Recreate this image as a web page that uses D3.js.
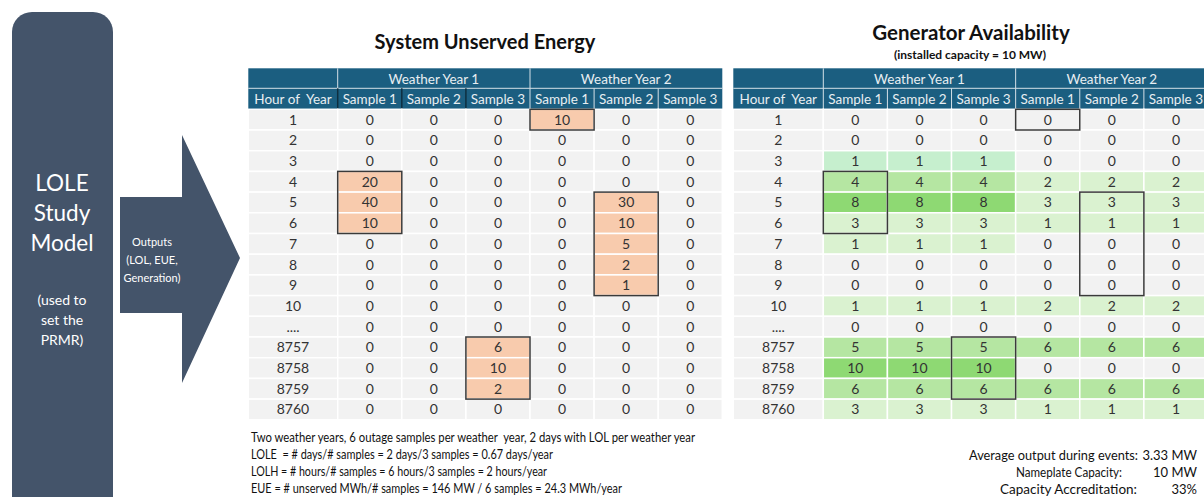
<!DOCTYPE html>
<html>
<head>
<meta charset="utf-8">
<script src="https://cdn.jsdelivr.net/npm/d3@7/dist/d3.min.js"></script>
<style>
  html, body { margin: 0; padding: 0; background: #ffffff; }
  svg { display: block; }
  text { font-family: Lato, "Noto Sans", sans-serif; }
</style>
</head>
<body>
<svg id="chart" width="1204" height="497"></svg>
<script>
// ---------- DATA ----------
const hours = ["1","2","3","4","5","6","7","8","9","10","....","8757","8758","8759","8760"];
const weatherYears = ["Weather Year 1","Weather Year 2"];
const samples = ["Sample 1","Sample 2","Sample 3"];
const hourHeader = "Hour of  Year";

// System unserved energy (MWh), columns: WY1 S1..S3, WY2 S1..S3
const unservedWY1S1 = [0,0,0,20,40,10,0,0,0,0,0,0,0,0,0];
const unservedWY1S2 = [0,0,0,0,0,0,0,0,0,0,0,0,0,0,0];
const unservedWY1S3 = [0,0,0,0,0,0,0,0,0,0,0,6,10,2,0];
const unservedWY2S1 = [10,0,0,0,0,0,0,0,0,0,0,0,0,0,0];
const unservedWY2S2 = [0,0,0,0,30,10,5,2,1,0,0,0,0,0,0];
const unservedWY2S3 = [0,0,0,0,0,0,0,0,0,0,0,0,0,0,0];

// Generator availability (MW)
const genWY1S1 = [0,0,1,4,8,3,1,0,0,1,0,5,10,6,3];
const genWY1S2 = [0,0,1,4,8,3,1,0,0,1,0,5,10,6,3];
const genWY1S3 = [0,0,1,4,8,3,1,0,0,1,0,5,10,6,3];
const genWY2S1 = [0,0,0,2,3,1,0,0,0,2,0,6,0,6,1];
const genWY2S2 = [0,0,0,2,3,1,0,0,0,2,0,6,0,6,1];
const genWY2S3 = [0,0,0,2,3,1,0,0,0,2,0,6,0,6,1];

// Loss-of-load events: column index (0..5) and hour range
const eventCols  = [3, 0, 4, 2];
const eventStart = ["1","4","5","8757"];
const eventEnd   = ["1","6","9","8759"];

const notes = [
  "Two weather years, 6 outage samples per weather  year, 2 days with LOL per weather year",
  "LOLE  = # days/# samples = 2 days/3 samples = 0.67 days/year",
  "LOLH = # hours/# samples = 6 hours/3 samples = 2 hours/year",
  "EUE = # unserved MWh/# samples = 146 MW / 6 samples = 24.3 MWh/year"
];
const summaryLabels = ["Average output during events:", "Nameplate Capacity:", "Capacity Accreditation:"];
const summaryValues = ["3.33 MW", "10 MW", "33%"];

// ---------- DRAW ----------
const svg = d3.select("#chart");
const HEADER = "#1B5E80";
const SLATE = "#44546A";

// Left model box
svg.append("rect").attr("x", 12).attr("y", 12).attr("width", 101).attr("height", 510)
  .attr("rx", 20).attr("fill", SLATE);
const lt = svg.append("text").attr("fill", "#ffffff").attr("text-anchor", "middle");
[["LOLE",191,22.5],["Study",221,22.5],["Model",251,22.5],["(used to",305,14],["set the",325,14],["PRMR)",345,14]]
  .forEach(([t,y,s]) => lt.append("tspan").attr("x", 62).attr("y", y).attr("font-size", s).text(t));

// Arrow
const arrowPts = [[120,197],[182,197],[182,135],[240,258],[182,383],[182,313],[120,313]];
svg.append("path").attr("d", d3.line()(arrowPts) + "Z").attr("fill", SLATE);
const at = svg.append("text").attr("fill", "#ffffff").attr("text-anchor", "middle").attr("font-size", 11);
[["Outputs",246],["(LOL, EUE,",264],["Generation)",282]]
  .forEach(([t,y]) => at.append("tspan").attr("x", 152).attr("y", y).text(t));

// Titles
svg.append("text").attr("x", 485).attr("y", 49).attr("text-anchor", "middle")
  .attr("font-size", 20).attr("font-weight", "bold").attr("fill", "#111").text("System Unserved Energy");
svg.append("text").attr("x", 971).attr("y", 40).attr("text-anchor", "middle")
  .attr("font-size", 20.5).attr("font-weight", "bold").attr("fill", "#111").text("Generator Availability");
svg.append("text").attr("x", 970).attr("y", 59).attr("text-anchor", "middle")
  .attr("font-size", 12).attr("font-weight", "bold").attr("fill", "#111").text("(installed capacity = 10 MW)");

const yBody = d3.scaleBand().domain(hours).range([109.3, 419.8]);
const colKeys = [];
weatherYears.forEach((w,i) => samples.forEach((s,j) => colKeys.push(i*3+j)));

function genColor(v, hour) {
  if (v === 0) return "#F2F2F2";
  if (hour === "3") return "#C6EFCE";
  if (v <= 3) return "#DAF2D0";
  if (v <= 6) return "#B5E6A2";
  return "#8ED973";
}

function drawTable(x0, hourW, xEnd, columns, fillFn, darkSeps) {
  const g = svg.append("g");
  const xs = d3.scaleBand().domain(colKeys).range([x0 + hourW, xEnd]);
  const xw = d3.scaleBand().domain(weatherYears).range([x0 + hourW, xEnd]);
  // header rows
  g.append("rect").attr("x", x0).attr("y", 68.3).attr("width", xEnd - x0).attr("height", 41)
    .attr("fill", HEADER);
  weatherYears.forEach(w => {
    g.append("line").attr("x1", xw(w)).attr("x2", xw(w)).attr("y1", 68.3).attr("y2", 88.3)
      .attr("stroke", "#D5E0E7").attr("stroke-width", 1);
    g.append("text").attr("x", xw(w) + xw.bandwidth()/2).attr("y", 83.5).attr("text-anchor", "middle")
      .attr("font-size", 13.5).attr("fill", "#E8EEF2").text(w);
  });
  g.append("line").attr("x1", x0).attr("x2", xEnd).attr("y1", 88.3).attr("y2", 88.3)
    .attr("stroke", "#D5E0E7").attr("stroke-width", 1);
  g.append("text").attr("x", x0 + hourW/2).attr("y", 104).attr("text-anchor", "middle")
    .attr("font-size", 13.5).attr("fill", "#E8EEF2").attr("xml:space", "preserve").text(hourHeader);
  colKeys.forEach(c => {
    const dark = darkSeps && c < 3;
    g.append("line").attr("x1", xs(c)).attr("x2", xs(c)).attr("y1", 88.3).attr("y2", 109.3)
      .attr("stroke", dark ? "#0E2F40" : "#D5E0E7").attr("stroke-width", dark ? 1.5 : 1);
    g.append("text").attr("x", xs(c) + xs.bandwidth()/2).attr("y", 104).attr("text-anchor", "middle")
      .attr("font-size", 13.5).attr("fill", "#E8EEF2").text(samples[c % 3]);
  });
  // body
  hours.forEach((h, r) => {
    const y = yBody(h), hh = yBody.bandwidth();
    g.append("rect").attr("x", x0).attr("y", y).attr("width", hourW).attr("height", hh)
      .attr("fill", "#F2F2F2").attr("stroke", "#ffffff").attr("stroke-width", 1.5);
    g.append("text").attr("x", x0 + hourW/2).attr("y", y + hh/2 + 5).attr("text-anchor", "middle")
      .attr("font-size", 14).attr("fill", "#333").text(h);
    colKeys.forEach(c => {
      const v = columns[c][r];
      g.append("rect").attr("x", xs(c)).attr("y", y).attr("width", xs.bandwidth()).attr("height", hh)
        .attr("fill", fillFn(v, h, c, r)).attr("stroke", "#ffffff").attr("stroke-width", 1.5);
      g.append("text").attr("x", xs(c) + xs.bandwidth()/2).attr("y", y + hh/2 + 5)
        .attr("text-anchor", "middle").attr("font-size", 14).attr("fill", "#333").text(v);
    });
  });
  // event boxes
  eventCols.forEach((c, i) => {
    const y1 = yBody(eventStart[i]), y2 = yBody(eventEnd[i]) + yBody.bandwidth();
    g.append("rect").attr("x", xs(c)).attr("y", y1).attr("width", xs.bandwidth()).attr("height", y2 - y1)
      .attr("fill", "none").attr("stroke", "#3A3A3A").attr("stroke-width", 1.5);
  });
  return xs;
}

function isEvent(c, r) {
  return eventCols.some((ec, i) => ec === c &&
    r >= hours.indexOf(eventStart[i]) && r <= hours.indexOf(eventEnd[i]));
}

const unservedCols = [unservedWY1S1, unservedWY1S2, unservedWY1S3, unservedWY2S1, unservedWY2S2, unservedWY2S3];
const genCols = [genWY1S1, genWY1S2, genWY1S3, genWY2S1, genWY2S2, genWY2S3];

drawTable(248.3, 89.4, 722.3, unservedCols, (v, h, c, r) => isEvent(c, r) ? "#F8CBAD" : "#F2F2F2", true);
drawTable(733.3, 90, 1208, genCols, (v, h) => genColor(v, h), false);

// Notes
const noteW = [444, 302, 296, 371];
notes.forEach((t, i) => {
  svg.append("text").attr("x", 251).attr("y", 441.5 + i * 17.2).attr("font-size", 13)
    .attr("fill", "#111").attr("textLength", noteW[i]).attr("lengthAdjust", "spacingAndGlyphs")
    .attr("xml:space", "preserve").text(t);
});
const sumLabelEnd = [1138, 1122, 1137];
const sumLabelW = [169, 106, 137];
summaryLabels.forEach((t, i) => {
  const y = 460 + i * 16.8;
  svg.append("text").attr("x", sumLabelEnd[i] - sumLabelW[i]).attr("y", y).attr("font-size", 13)
    .attr("fill", "#111").attr("textLength", sumLabelW[i]).attr("lengthAdjust", "spacingAndGlyphs").text(t);
  svg.append("text").attr("x", 1197).attr("y", y).attr("text-anchor", "end").attr("font-size", 13)
    .attr("fill", "#111").text(summaryValues[i]);
});
</script>
</body>
</html>
